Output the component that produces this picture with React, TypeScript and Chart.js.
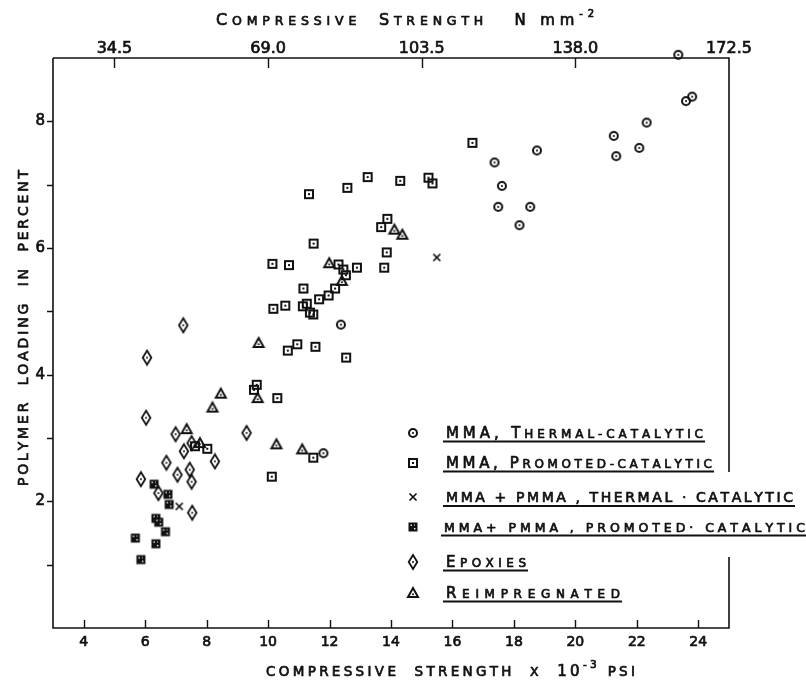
import React, { useEffect, useRef } from 'react';
import { Chart, registerables } from 'chart.js';

Chart.register(...registerables);

const FONT = '"DejaVu Sans", sans-serif';
const INK = '#111111';

// Compressive strength (x 10^-3 psi) against polymer loading (%)
const mmaThermal: [number, number][] = [
  [23.35, 9.05], [23.6, 8.32], [23.8, 8.39], [22.32, 7.98], [21.25, 7.77],
  [22.08, 7.58], [21.33, 7.45], [18.75, 7.54], [17.37, 7.35], [17.61, 6.98],
  [17.49, 6.65], [18.53, 6.65], [18.18, 6.36], [12.37, 4.79], [11.8, 2.76],
];

const mmaPromoted: [number, number][] = [
  [16.65, 7.66], [11.33, 6.85], [12.58, 6.95], [13.24, 7.12], [14.3, 7.06],
  [15.22, 7.11], [15.35, 7.02], [13.88, 6.46], [13.68, 6.33], [11.48, 6.07],
  [13.86, 5.93], [10.14, 5.75], [10.68, 5.73], [12.29, 5.74], [12.89, 5.69],
  [13.78, 5.69], [12.45, 5.66], [12.53, 5.57], [12.18, 5.36], [11.97, 5.25],
  [11.66, 5.19], [11.15, 5.36], [10.17, 5.04], [10.56, 5.09], [11.13, 5.08],
  [11.26, 5.12], [11.36, 4.98], [11.47, 4.95], [10.64, 4.38], [10.95, 4.48],
  [11.54, 4.44], [12.54, 4.27], [9.54, 3.76], [9.63, 3.84], [10.3, 3.63],
  [7.62, 2.87], [8.02, 2.83], [11.47, 2.69], [10.12, 2.39],
];

const pmmaThermal: [number, number][] = [
  [7.11, 1.92], [15.49, 5.85],
];

const pmmaPromoted: [number, number][] = [
  [6.29, 2.27], [6.74, 2.11], [6.78, 1.95], [6.35, 1.73], [6.44, 1.67],
  [6.66, 1.52], [5.68, 1.42], [6.35, 1.33], [5.86, 1.08],
];

const epoxies: [number, number][] = [
  [7.24, 4.78], [6.06, 4.27], [6.03, 3.32], [9.3, 3.08], [6.99, 3.06],
  [7.51, 2.92], [7.26, 2.79], [6.69, 2.61], [8.27, 2.63], [7.45, 2.5],
  [7.05, 2.42], [5.86, 2.35], [7.51, 2.31], [6.43, 2.13], [7.53, 1.82],
];

const reimpregnated: [number, number][] = [
  [9.69, 4.5], [9.66, 3.63], [8.46, 3.7], [8.19, 3.48], [7.35, 3.14],
  [7.78, 2.92], [10.27, 2.9], [11.11, 2.82], [11.99, 5.76], [12.4, 5.48],
  [14.11, 6.29], [14.37, 6.21],
];

const psiTicks = [4, 6, 8, 10, 12, 14, 16, 18, 20, 22, 24];
const mpaTicks = [5, 10, 15, 20, 25];
const mpaLabels = ['34.5', '69.0', '103.5', '138.0', '172.5'];
const loadingTicks = [1, 2, 3, 4, 5, 6, 7, 8];

type Seg = { t: string; size: number; rise?: number };

function marker(kind: string): HTMLCanvasElement {
  const w = 16;
  const h = kind === 'diamond' ? 18 : 16;
  const c = document.createElement('canvas');
  c.width = w;
  c.height = h;
  const g = c.getContext('2d')!;
  g.strokeStyle = INK;
  g.fillStyle = INK;
  g.lineWidth = 2;
  const cx = w / 2;
  const cy = h / 2;
  switch (kind) {
    case 'circle':
      g.beginPath();
      g.arc(cx, cy, 4, 0, Math.PI * 2);
      g.stroke();
      g.beginPath();
      g.arc(cx, cy, 1.1, 0, Math.PI * 2);
      g.fill();
      break;
    case 'square':
      g.strokeRect(4, 4, 8, 8);
      g.fillRect(7, 7, 2, 2);
      break;
    case 'cross':
      g.lineWidth = 1.7;
      g.beginPath();
      g.moveTo(4.5, 4.5);
      g.lineTo(11.5, 11.5);
      g.moveTo(11.5, 4.5);
      g.lineTo(4.5, 11.5);
      g.stroke();
      break;
    case 'squareX':
      g.fillRect(3.5, 3.5, 9, 9);
      g.fillStyle = '#ffffff';
      g.fillRect(5.5, 5.5, 1.4, 1.4);
      g.fillRect(9, 9, 1.4, 1.4);
      g.fillRect(9, 5.5, 1, 1);
      break;
    case 'diamond':
      g.lineWidth = 1.8;
      g.beginPath();
      g.moveTo(8, 2);
      g.lineTo(12.3, 9);
      g.lineTo(8, 16);
      g.lineTo(3.7, 9);
      g.closePath();
      g.stroke();
      g.beginPath();
      g.arc(8, 9, 1, 0, Math.PI * 2);
      g.fill();
      break;
    case 'triangle':
      g.lineWidth = 2;
      g.beginPath();
      g.moveTo(8, 3);
      g.lineTo(13, 12);
      g.lineTo(3, 12);
      g.closePath();
      g.stroke();
      g.beginPath();
      g.arc(8, 9.2, 1, 0, Math.PI * 2);
      g.fill();
      break;
  }
  return c;
}

// Draws a run of lettering spread evenly between x0 and x0 + width.
function spread(ctx: CanvasRenderingContext2D, segs: Seg[], x0: number, base: number, width: number) {
  const chars: { ch: string; size: number; rise: number; w: number }[] = [];
  for (const s of segs) {
    ctx.font = `${s.size}px ${FONT}`;
    for (const ch of s.t) {
      chars.push({ ch, size: s.size, rise: s.rise ?? 0, w: ctx.measureText(ch).width });
    }
  }
  const natural = chars.reduce((a, c) => a + c.w, 0);
  const gap = chars.length > 1 ? (width - natural) / (chars.length - 1) : 0;
  ctx.textAlign = 'left';
  ctx.textBaseline = 'alphabetic';
  ctx.lineWidth = 0.7;
  ctx.lineJoin = 'round';
  let x = x0;
  for (const c of chars) {
    ctx.font = `${c.size}px ${FONT}`;
    ctx.fillText(c.ch, x, base - c.rise);
    ctx.strokeText(c.ch, x, base - c.rise);
    x += c.w + gap;
  }
}

type LegendRow = { kind: string; sy: number; base: number; x0: number; x1: number; segs: Seg[] };

const legendRows: LegendRow[] = [
  { kind: 'circle', sy: 433, base: 437.5, x0: 446, x1: 703, segs: [{ t: 'MMA, T', size: 15 }, { t: 'HERMAL-CATALYTIC', size: 12 }] },
  { kind: 'square', sy: 463, base: 467.5, x0: 446, x1: 712, segs: [{ t: 'MMA, P', size: 15 }, { t: 'ROMOTED-CATALYTIC', size: 12 }] },
  { kind: 'cross', sy: 497, base: 502, x0: 446, x1: 793, segs: [{ t: 'MMA + PMMA , THERMAL · CATALYTIC', size: 14 }] },
  { kind: 'squareX', sy: 527, base: 531.5, x0: 444, x1: 805, segs: [{ t: 'MMA+ PMMA , PROMOTED· CATALYTIC', size: 12.5 }] },
  { kind: 'diamond', sy: 562, base: 566.5, x0: 446, x1: 526, segs: [{ t: 'E', size: 15 }, { t: 'POXIES', size: 12 }] },
  { kind: 'triangle', sy: 593, base: 597.5, x0: 446, x1: 620, segs: [{ t: 'R', size: 15 }, { t: 'EIMPREGNATED', size: 12 }] },
];

// the right-hand frame line is interrupted where the long legend entries run across it
const FRAME_GAP_TOP = 472;
const FRAME_GAP_BOTTOM = 557;

export default function App() {
  const ref = useRef<HTMLCanvasElement | null>(null);

  useEffect(() => {
    const canvas = ref.current;
    if (!canvas) return;
    const markers: Record<string, HTMLCanvasElement> = {
      circle: marker('circle'),
      square: marker('square'),
      cross: marker('cross'),
      squareX: marker('squareX'),
      diamond: marker('diamond'),
      triangle: marker('triangle'),
    };
    const toPts = (a: [number, number][]) => a.map(([x, y]) => ({ x, y }));
    const ds = (label: string, data: [number, number][], kind: string) => ({
      label,
      data: toPts(data),
      pointStyle: markers[kind],
      pointRadius: 5,
      showLine: false,
      clip: false as any,
    });

    const decor = {
      id: 'decor',
      afterDraw(chart: Chart) {
        const { ctx, chartArea: a, scales } = chart;
        const x = scales.x;
        const y = scales.y;
        ctx.save();
        ctx.strokeStyle = INK;
        ctx.fillStyle = INK;
        ctx.lineWidth = 1.6;
        ctx.lineCap = 'butt';
        // frame
        ctx.beginPath();
        ctx.moveTo(a.left, a.top);
        ctx.lineTo(a.right, a.top);
        ctx.lineTo(a.right, FRAME_GAP_TOP);
        ctx.moveTo(a.right, FRAME_GAP_BOTTOM);
        ctx.lineTo(a.right, a.bottom);
        ctx.lineTo(a.left, a.bottom);
        ctx.lineTo(a.left, a.top);
        ctx.stroke();
        // tick marks
        ctx.lineWidth = 1.4;
        ctx.beginPath();
        for (const v of psiTicks) {
          const px = Math.round(x.getPixelForValue(v)) + 0.5;
          ctx.moveTo(px, a.bottom);
          ctx.lineTo(px, a.bottom - 8);
        }
        for (const v of mpaTicks) {
          if (v >= 25) continue;
          const px = Math.round(x.getPixelForValue(v)) + 0.5;
          ctx.moveTo(px, a.top);
          ctx.lineTo(px, a.top + 10);
        }
        for (const v of loadingTicks) {
          const py = Math.round(y.getPixelForValue(v)) + 0.5;
          ctx.moveTo(a.left - 6, py);
          ctx.lineTo(a.left, py);
        }
        ctx.stroke();

        // axis titles
        spread(ctx, [
          { t: 'C', size: 16 }, { t: 'OMPRESSIVE', size: 12.5 }, { t: '  ', size: 12.5 },
          { t: 'S', size: 16 }, { t: 'TRENGTH', size: 12.5 }, { t: '   ', size: 12.5 },
          { t: 'N mm', size: 15 }, { t: '-2', size: 10, rise: 8 },
        ], 216, 25, 378);
        spread(ctx, [
          { t: 'COMPRESSIVE  STRENGTH  ', size: 13.5 }, { t: 'X', size: 12.5 }, { t: '  ', size: 13.5 },
          { t: '10', size: 15 }, { t: '-3', size: 10.5, rise: 8 }, { t: ' PSI', size: 13.5 },
        ], 266, 676, 369);
        ctx.save();
        ctx.translate(28, 328);
        ctx.rotate(-Math.PI / 2);
        spread(ctx, [{ t: 'POLYMER  LOADING  IN  PERCENT', size: 14 }], -158, 0, 316);
        ctx.restore();

        // legend
        for (const r of legendRows) {
          const m = markers[r.kind];
          ctx.drawImage(m, 413 - m.width / 2, r.sy - m.height / 2);
          spread(ctx, r.segs, r.x0, r.base, r.x1 - r.x0);
          ctx.lineWidth = 1.8;
          ctx.beginPath();
          ctx.moveTo(r.x0 - 3, r.base + 4);
          ctx.lineTo(r.x1 + 2, r.base + 4);
          ctx.stroke();
        }
        ctx.restore();
      },
    };

    const tickStyle = (size: number, padding: number) => ({
      color: INK,
      font: { family: FONT, size },
      padding,
      maxRotation: 0,
      autoSkip: false,
      textStrokeColor: INK,
      textStrokeWidth: 0.7,
    });

    const chart = new Chart(canvas, {
      type: 'scatter',
      data: {
        datasets: [
          ds('MMA, Thermal-catalytic', mmaThermal, 'circle'),
          ds('MMA, Promoted-catalytic', mmaPromoted, 'square'),
          ds('MMA + PMMA, Thermal-catalytic', pmmaThermal, 'cross'),
          ds('MMA + PMMA, Promoted-catalytic', pmmaPromoted, 'squareX'),
          ds('Epoxies', epoxies, 'diamond'),
          ds('Reimpregnated', reimpregnated, 'triangle'),
        ] as any,
      },
      options: {
        animation: false,
        responsive: false,
        maintainAspectRatio: false,
        layout: { padding: { left: 0, right: 77, top: 0, bottom: 0 } },
        plugins: { legend: { display: false }, tooltip: { enabled: false } },
        scales: {
          x: {
            type: 'linear',
            position: 'bottom',
            min: 3,
            max: 25,
            afterBuildTicks: (s: any) => { s.ticks = psiTicks.map((v) => ({ value: v })); },
            afterFit: (s: any) => { s.height = 55; },
            grid: { display: false, drawTicks: false },
            border: { display: false },
            ticks: tickStyle(14, 6),
          },
          x2: {
            type: 'linear',
            position: 'top',
            min: 3,
            max: 25,
            afterBuildTicks: (s: any) => { s.ticks = mpaTicks.map((v) => ({ value: v })); },
            afterFit: (s: any) => { s.height = 58; },
            grid: { display: false, drawTicks: false },
            border: { display: false },
            ticks: {
              ...tickStyle(16, 0),
              callback: (v: any) => mpaLabels[mpaTicks.indexOf(Number(v))] ?? '',
            },
          },
          y: {
            type: 'linear',
            min: 0,
            max: 9,
            afterBuildTicks: (s: any) => { s.ticks = loadingTicks.map((v) => ({ value: v })); },
            afterFit: (s: any) => { s.width = 53; },
            grid: { display: false, drawTicks: false },
            border: { display: false },
            ticks: {
              ...tickStyle(15, 8),
              callback: (v: any) => (Number(v) % 2 === 0 ? String(v) : ''),
            },
          },
        },
      } as any,
      plugins: [decor],
    });
    return () => chart.destroy();
  }, []);

  return (
    <div style={{ position: 'absolute', left: 0, top: 0, width: 806, height: 683, background: '#fff' }}>
      <canvas ref={ref} width={806} height={683} style={{ display: 'block' }} />
    </div>
  );
}
